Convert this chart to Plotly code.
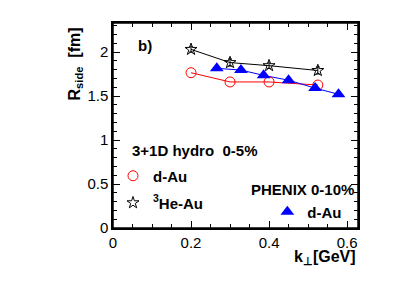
import plotly.graph_objects as go

# Data
kt_hydro = [0.2, 0.3, 0.4, 0.525]
r_hydro_dau = [1.765, 1.66, 1.66, 1.625]
r_hydro_heau = [2.03, 1.88, 1.845, 1.79]
err_hydro_heau = [0.03, 0.04, 0.03, 0.04]
kt_phenix = [0.266, 0.328, 0.386, 0.45, 0.518, 0.578]
r_phenix_dau = [1.815, 1.795, 1.735, 1.68, 1.59, 1.52]

font = "Liberation Sans, Arial, Helvetica, sans-serif"

fig = go.Figure()
# lines
fig.add_trace(go.Scatter(x=kt_hydro, y=r_hydro_dau, mode="lines",
                         line=dict(color="red", width=1), showlegend=False))
fig.add_trace(go.Scatter(x=kt_hydro, y=r_hydro_heau, mode="lines",
                         line=dict(color="black", width=1), showlegend=False))
fig.add_trace(go.Scatter(x=kt_phenix, y=r_phenix_dau, mode="lines",
                         line=dict(color="blue", width=1), showlegend=False))
# markers
fig.add_trace(go.Scatter(x=kt_hydro, y=r_hydro_dau, mode="markers", name="d-Au",
                         marker=dict(symbol="circle-open", size=10, color="red",
                                     line=dict(width=1)),
                         legend="legend"))
fig.add_trace(go.Scatter(x=kt_hydro, y=r_hydro_heau, mode="markers", name="<sup>3</sup>He-Au",
                         marker=dict(symbol="star-open", size=9, color="black",
                                     line=dict(width=1)),
                         error_y=dict(type="data", array=err_hydro_heau, color="black",
                                      thickness=1, width=2),
                         legend="legend2"))
fig.add_trace(go.Scatter(x=kt_phenix, y=r_phenix_dau, mode="markers", name="d-Au",
                         marker=dict(symbol="triangle-up", size=12, color="blue"),
                         legend="legend3"))

x_range = [0, 0.628]
y_range = [0, 2.33]

axis_common = dict(
    showline=True, linecolor="black", linewidth=1.5, mirror="allticks",
    ticks="inside", ticklen=7, tickwidth=1, tickcolor="black",
    showgrid=False, zeroline=False,
    tickfont=dict(family=font, size=15, color="black"),
)
x_minor = dict(dtick=0.05, ticks="inside", ticklen=4, tickcolor="black")
y_minor = dict(dtick=0.1, ticks="inside", ticklen=4, tickcolor="black")

leg_common = dict(font=dict(family=font, size=15, color="black", weight="bold"),
                  bgcolor="rgba(0,0,0,0)", xanchor="left", yanchor="middle",
                  itemsizing="trace")
fig.update_layout(
    width=407, height=307,
    margin=dict(l=105, r=57, t=15, b=87),
    paper_bgcolor="white", plot_bgcolor="white",
    xaxis=dict(range=x_range, dtick=0.2, tick0=0, minor=x_minor, **axis_common),
    yaxis=dict(range=y_range, dtick=0.5, tick0=0, minor=y_minor, **axis_common),
    shapes=[dict(type="rect", xref="paper", yref="paper", x0=0, y0=0, x1=1, y1=1,
                 line=dict(color="black", width=1.5), layer="above")],
    legend=dict(x=0.0, y=(228 - 176) / 205, **leg_common),
    legend2=dict(x=0.0, y=(228 - 203) / 205, **leg_common),
    legend3=dict(x=0.63, y=(228 - 212) / 205, **leg_common),
    annotations=[
        dict(text="b)", x=(136 - 113) / 245, y=(228 - 45) / 205, xref="paper", yref="paper",
             xanchor="left", yanchor="middle", showarrow=False,
             font=dict(family=font, size=15, color="black", weight="bold")),
        dict(text="3+1D hydro  0-5%", x=(130 - 113) / 245, y=(228 - 150) / 205,
             xref="paper", yref="paper", xanchor="left", yanchor="middle", showarrow=False,
             font=dict(family=font, size=15, color="black", weight="bold")),
        dict(text="PHENIX 0-10%", x=(249 - 113) / 245, y=(228 - 189) / 205,
             xref="paper", yref="paper", xanchor="left", yanchor="middle", showarrow=False,
             font=dict(family=font, size=15, color="black", weight="bold")),
        dict(text="k<sub>⊥</sub>[GeV]", x=1.0, y=(228 - 258) / 205,
             xref="paper", yref="paper", xanchor="right", yanchor="middle", showarrow=False,
             font=dict(family=font, size=16, color="black", weight="bold")),
        dict(text="R<sub>side</sub>  [fm]", x=(75 - 113) / 245, y=(228 - 26) / 205,
             xref="paper", yref="paper", xanchor="center", yanchor="top", showarrow=False,
             textangle=-90,
             font=dict(family=font, size=16, color="black", weight="bold")),
    ],
)

fig.write_html("out.html")
